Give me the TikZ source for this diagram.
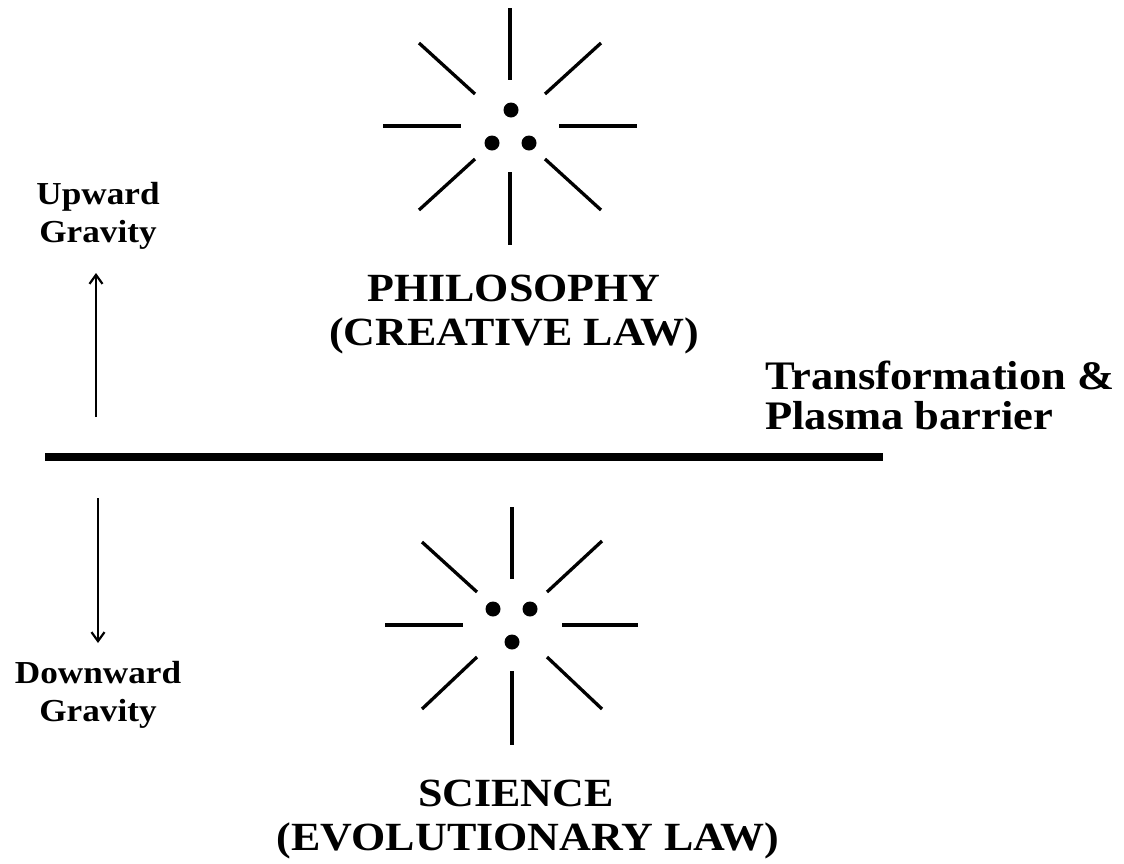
\documentclass[tikz,border=0pt]{standalone}
\usepackage{fontspec}
\setmainfont{Liberation Serif}[FakeStretch=1.1]
\usetikzlibrary{arrows.meta}
\tikzset{
  ray/.style={line width=3.3pt},
  dotmark/.style={fill=black},
  biglabel/.style={font=\bfseries\fontsize{40}{44}\selectfont, align=center, inner sep=0pt},
  smalllabel/.style={font=\bfseries\fontsize{32}{38}\selectfont, align=center, inner sep=0pt},
  sidelabel/.style={font=\bfseries\fontsize{40.5}{40}\selectfont, align=left, inner sep=0pt, anchor=west},
  gravarrow/.style={line width=2.2pt, -{Straight Barb[length=9pt,width=13pt,line width=2.2pt]}},
  barrier/.style={line width=8pt}
}
\begin{document}
\begin{tikzpicture}[x=1pt,y=-1pt]
\useasboundingbox (0,0) rectangle (1124,863);
% top star
\draw[ray] (510,8) -- (510,80);
\draw[ray] (510,172) -- (510,245);
\draw[ray] (383,126) -- (461,126);
\draw[ray] (559,126) -- (637,126);
\draw[ray] (419,43) -- (475,94);
\draw[ray] (545,94) -- (601,43);
\draw[ray] (475,159) -- (419,210);
\draw[ray] (545,159) -- (601,210);
\fill[dotmark] (511,110) circle (7.5);
\fill[dotmark] (492,143) circle (7.5);
\fill[dotmark] (529,143) circle (7.5);
% bottom star
\draw[ray] (512,507) -- (512,579);
\draw[ray] (512,671) -- (512,745);
\draw[ray] (385,625) -- (463,625);
\draw[ray] (562,625) -- (638,625);
\draw[ray] (422,542) -- (477,592);
\draw[ray] (547,592) -- (602,541);
\draw[ray] (477,657) -- (422,709);
\draw[ray] (547,657) -- (602,709);
\fill[dotmark] (493,609) circle (7.5);
\fill[dotmark] (530,609) circle (7.5);
\fill[dotmark] (512,642) circle (7.5);
% barrier
\coordinate (barL) at (45,457);
\coordinate (barR) at (883,457);
\draw[barrier] (barL) -- (barR);
% labels
\node[smalllabel] (up) at (98,216) {Upward\\Gravity};
\node[smalllabel] (down) at (98,695) {Downward\\Gravity};
\node[biglabel] (phil) at (514,315) {PHILOSOPHY\\(CREATIVE LAW)};
\node[biglabel] (sci) at (528,820) {SCIENCE\hspace*{24pt}\\(EVOLUTIONARY LAW)};
\node[sidelabel] (trans) at (765,395) {Transformation \&\\Plasma barrier};
% arrows
\coordinate (upS) at (96,417);
\coordinate (upE) at (96,273);
\coordinate (dnS) at (98,498);
\coordinate (dnE) at (98,643);
\draw[gravarrow] (upS) -- (upE);
\draw[gravarrow] (dnS) -- (dnE);
\end{tikzpicture}
\end{document}
